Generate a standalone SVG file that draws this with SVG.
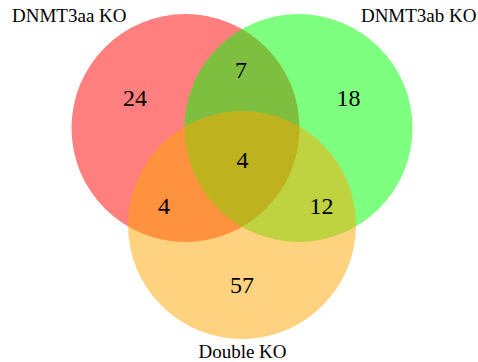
<svg xmlns="http://www.w3.org/2000/svg" width="478" height="362" viewBox="0 0 478 362">
  <style>
    .set { fill-opacity: 0.5; stroke: none; }
    .label { font-family: 'Liberation Serif', 'DejaVu Serif', serif; font-size: 19px; fill: #000; }
    .count { font-family: 'Liberation Serif', 'DejaVu Serif', serif; font-size: 24px; fill: #000; text-anchor: middle; }
  </style>
  <rect width="478" height="362" fill="#ffffff"/>
  <!-- three overlapping sets -->
  <g id="set-dnmt3aa">
    <circle class="set" cx="185.5" cy="128" r="114" fill="#ff0000"/>
  </g>
  <g id="set-dnmt3ab">
    <circle class="set" cx="298.5" cy="128" r="114" fill="#00ff00"/>
  </g>
  <g id="set-double">
    <circle class="set" cx="242" cy="225" r="114" fill="#ffa500"/>
  </g>
  <!-- set names -->
  <g id="names">
    <text class="label" x="12" y="21.5">DNMT3aa KO</text>
    <text class="label" x="476.5" y="21.5" text-anchor="end">DNMT3ab KO</text>
    <text class="label" x="242.5" y="358" text-anchor="middle">Double KO</text>
  </g>
  <!-- region counts -->
  <g id="counts">
    <text class="count" x="135" y="106">24</text>
    <text class="count" x="241" y="78">7</text>
    <text class="count" x="348.5" y="106">18</text>
    <text class="count" x="242.5" y="168">4</text>
    <text class="count" x="164" y="214">4</text>
    <text class="count" x="321.5" y="214">12</text>
    <text class="count" x="242" y="292.5">57</text>
  </g>
</svg>
